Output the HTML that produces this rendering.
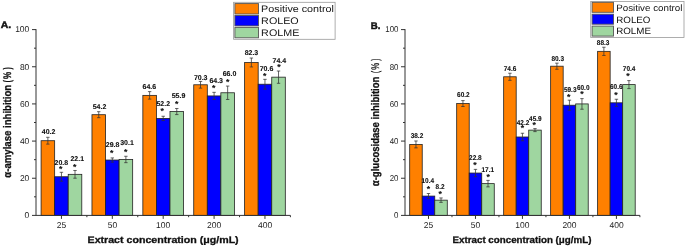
<!DOCTYPE html>
<html><head><meta charset="utf-8"><style>
html,body{margin:0;padding:0;background:#fff;width:685px;height:246px;overflow:hidden}
svg{display:block;will-change:transform}
text{font-family:"Liberation Sans",sans-serif;fill:#111;text-rendering:geometricPrecision}
.vl{stroke:#111;stroke-width:0.12px}
.tt{stroke:#111;stroke-width:0.3px}
.pl{stroke:#111;stroke-width:0.45px}
.st{stroke:#111;stroke-width:0.1px}
</style></head><body>
<svg width="685" height="246" viewBox="0 0 685 246">
<rect x="41.09" y="140.71" width="13.57" height="74.69" fill="#ff8000" stroke="#222" stroke-width="0.8"/>
<path d="M46.17 137.31H49.57M47.87 137.31V144.11M46.17 144.11H49.57" stroke="#333" stroke-width="0.75" fill="none"/>
<rect x="54.66" y="176.75" width="13.57" height="38.65" fill="#0000ff" stroke="#222" stroke-width="0.8"/>
<path d="M59.74 172.30H63.14M61.44 172.30V181.20M59.74 181.20H63.14" stroke="#333" stroke-width="0.75" fill="none"/>
<rect x="68.22" y="174.34" width="13.57" height="41.06" fill="#9fd6a0" stroke="#222" stroke-width="0.8"/>
<path d="M73.31 170.49H76.71M75.01 170.49V178.19M73.31 178.19H76.71" stroke="#333" stroke-width="0.75" fill="none"/>
<rect x="91.97" y="114.70" width="13.57" height="100.70" fill="#ff8000" stroke="#222" stroke-width="0.8"/>
<path d="M97.05 111.70H100.45M98.75 111.70V117.70M97.05 117.70H100.45" stroke="#333" stroke-width="0.75" fill="none"/>
<rect x="105.54" y="160.03" width="13.57" height="55.37" fill="#0000ff" stroke="#222" stroke-width="0.8"/>
<path d="M110.62 157.93H114.02M112.32 157.93V162.13M110.62 162.13H114.02" stroke="#333" stroke-width="0.75" fill="none"/>
<rect x="119.10" y="159.47" width="13.57" height="55.93" fill="#9fd6a0" stroke="#222" stroke-width="0.8"/>
<path d="M124.19 156.27H127.59M125.89 156.27V162.67M124.19 162.67H127.59" stroke="#333" stroke-width="0.75" fill="none"/>
<rect x="142.85" y="95.37" width="13.57" height="120.03" fill="#ff8000" stroke="#222" stroke-width="0.8"/>
<path d="M147.93 91.62H151.33M149.63 91.62V99.12M147.93 99.12H151.33" stroke="#333" stroke-width="0.75" fill="none"/>
<rect x="156.42" y="118.41" width="13.57" height="96.99" fill="#0000ff" stroke="#222" stroke-width="0.8"/>
<path d="M161.50 116.26H164.90M163.20 116.26V120.56M161.50 120.56H164.90" stroke="#333" stroke-width="0.75" fill="none"/>
<rect x="169.98" y="111.54" width="13.57" height="103.86" fill="#9fd6a0" stroke="#222" stroke-width="0.8"/>
<path d="M175.07 108.49H178.47M176.77 108.49V114.59M175.07 114.59H178.47" stroke="#333" stroke-width="0.75" fill="none"/>
<rect x="193.73" y="84.78" width="13.57" height="130.62" fill="#ff8000" stroke="#222" stroke-width="0.8"/>
<path d="M198.81 81.43H202.21M200.51 81.43V88.13M198.81 88.13H202.21" stroke="#333" stroke-width="0.75" fill="none"/>
<rect x="207.30" y="95.93" width="13.57" height="119.47" fill="#0000ff" stroke="#222" stroke-width="0.8"/>
<path d="M212.38 92.33H215.78M214.08 92.33V99.53M212.38 99.53H215.78" stroke="#333" stroke-width="0.75" fill="none"/>
<rect x="220.86" y="92.77" width="13.57" height="122.63" fill="#9fd6a0" stroke="#222" stroke-width="0.8"/>
<path d="M225.95 86.07H229.35M227.65 86.07V99.47M225.95 99.47H229.35" stroke="#333" stroke-width="0.75" fill="none"/>
<rect x="244.61" y="62.49" width="13.57" height="152.91" fill="#ff8000" stroke="#222" stroke-width="0.8"/>
<path d="M249.69 58.04H253.09M251.39 58.04V66.94M249.69 66.94H253.09" stroke="#333" stroke-width="0.75" fill="none"/>
<rect x="258.18" y="84.23" width="13.57" height="131.17" fill="#0000ff" stroke="#222" stroke-width="0.8"/>
<path d="M263.26 79.33H266.66M264.96 79.33V89.13M263.26 89.13H266.66" stroke="#333" stroke-width="0.75" fill="none"/>
<rect x="271.74" y="77.16" width="13.57" height="138.24" fill="#9fd6a0" stroke="#222" stroke-width="0.8"/>
<path d="M276.83 71.01H280.23M278.53 71.01V83.31M276.83 83.31H280.23" stroke="#333" stroke-width="0.75" fill="none"/>
<text x="41.76" y="134.40" textLength="13.59" lengthAdjust="spacingAndGlyphs" style="font-size:7.0px;font-weight:bold" class="vl">40.2</text>
<text x="54.59" y="165.10" textLength="13.59" lengthAdjust="spacingAndGlyphs" style="font-size:7.0px;font-weight:bold" class="vl">20.8</text>
<text x="70.49" y="161.20" textLength="13.59" lengthAdjust="spacingAndGlyphs" style="font-size:7.0px;font-weight:bold" class="vl">22.1</text>
<text x="60.80" y="171.94" class="st" style="font-size:8.6px;font-weight:bold;text-anchor:middle">*</text>
<text x="74.60" y="169.54" class="st" style="font-size:8.6px;font-weight:bold;text-anchor:middle">*</text>
<text x="92.68" y="109.40" textLength="13.59" lengthAdjust="spacingAndGlyphs" style="font-size:7.0px;font-weight:bold" class="vl">54.2</text>
<text x="105.79" y="147.00" textLength="13.59" lengthAdjust="spacingAndGlyphs" style="font-size:7.0px;font-weight:bold" class="vl">29.8</text>
<text x="120.23" y="144.60" textLength="13.59" lengthAdjust="spacingAndGlyphs" style="font-size:7.0px;font-weight:bold" class="vl">30.1</text>
<text x="111.80" y="155.64" class="st" style="font-size:8.6px;font-weight:bold;text-anchor:middle">*</text>
<text x="125.60" y="155.04" class="st" style="font-size:8.6px;font-weight:bold;text-anchor:middle">*</text>
<text x="142.59" y="89.40" textLength="13.59" lengthAdjust="spacingAndGlyphs" style="font-size:7.0px;font-weight:bold" class="vl">64.6</text>
<text x="156.43" y="106.00" textLength="13.59" lengthAdjust="spacingAndGlyphs" style="font-size:7.0px;font-weight:bold" class="vl">52.2</text>
<text x="171.73" y="98.40" textLength="13.59" lengthAdjust="spacingAndGlyphs" style="font-size:7.0px;font-weight:bold" class="vl">55.9</text>
<text x="162.20" y="113.94" class="st" style="font-size:8.6px;font-weight:bold;text-anchor:middle">*</text>
<text x="176.60" y="106.64" class="st" style="font-size:8.6px;font-weight:bold;text-anchor:middle">*</text>
<text x="193.89" y="79.50" textLength="13.59" lengthAdjust="spacingAndGlyphs" style="font-size:7.0px;font-weight:bold" class="vl">70.3</text>
<text x="209.39" y="82.50" textLength="13.59" lengthAdjust="spacingAndGlyphs" style="font-size:7.0px;font-weight:bold" class="vl">64.3</text>
<text x="222.73" y="76.40" textLength="13.59" lengthAdjust="spacingAndGlyphs" style="font-size:7.0px;font-weight:bold" class="vl">66.0</text>
<text x="213.60" y="90.64" class="st" style="font-size:8.6px;font-weight:bold;text-anchor:middle">*</text>
<text x="227.60" y="84.54" class="st" style="font-size:8.6px;font-weight:bold;text-anchor:middle">*</text>
<text x="244.63" y="55.40" textLength="13.59" lengthAdjust="spacingAndGlyphs" style="font-size:7.0px;font-weight:bold" class="vl">82.3</text>
<text x="259.69" y="71.20" textLength="13.59" lengthAdjust="spacingAndGlyphs" style="font-size:7.0px;font-weight:bold" class="vl">70.6</text>
<text x="272.59" y="62.70" textLength="13.59" lengthAdjust="spacingAndGlyphs" style="font-size:7.0px;font-weight:bold" class="vl">74.4</text>
<text x="264.70" y="78.54" class="st" style="font-size:8.6px;font-weight:bold;text-anchor:middle">*</text>
<text x="279.00" y="70.44" class="st" style="font-size:8.6px;font-weight:bold;text-anchor:middle">*</text>
<path d="M36.0 29.1V215.4H290.4" stroke="#333" stroke-width="1" fill="none"/>
<rect x="409.70" y="144.42" width="12.53" height="70.98" fill="#ff8000" stroke="#222" stroke-width="0.8"/>
<path d="M414.26 140.97H417.66M415.96 140.97V147.87M414.26 147.87H417.66" stroke="#333" stroke-width="0.75" fill="none"/>
<rect x="422.23" y="196.08" width="12.53" height="19.32" fill="#0000ff" stroke="#222" stroke-width="0.8"/>
<path d="M426.79 193.53H430.19M428.49 193.53V198.63M426.79 198.63H430.19" stroke="#333" stroke-width="0.75" fill="none"/>
<rect x="434.75" y="200.16" width="12.53" height="15.24" fill="#9fd6a0" stroke="#222" stroke-width="0.8"/>
<path d="M439.32 197.96H442.72M441.02 197.96V202.36M439.32 202.36H442.72" stroke="#333" stroke-width="0.75" fill="none"/>
<rect x="456.68" y="103.55" width="12.53" height="111.85" fill="#ff8000" stroke="#222" stroke-width="0.8"/>
<path d="M461.24 100.60H464.64M462.94 100.60V106.50M461.24 106.50H464.64" stroke="#333" stroke-width="0.75" fill="none"/>
<rect x="469.21" y="173.04" width="12.53" height="42.36" fill="#0000ff" stroke="#222" stroke-width="0.8"/>
<path d="M473.77 169.39H477.17M475.47 169.39V176.69M473.77 176.69H477.17" stroke="#333" stroke-width="0.75" fill="none"/>
<rect x="481.73" y="183.63" width="12.53" height="31.77" fill="#9fd6a0" stroke="#222" stroke-width="0.8"/>
<path d="M486.30 180.38H489.70M488.00 180.38V186.88M486.30 186.88H489.70" stroke="#333" stroke-width="0.75" fill="none"/>
<rect x="503.66" y="76.79" width="12.53" height="138.61" fill="#ff8000" stroke="#222" stroke-width="0.8"/>
<path d="M508.22 73.24H511.62M509.92 73.24V80.34M508.22 80.34H511.62" stroke="#333" stroke-width="0.75" fill="none"/>
<rect x="516.19" y="136.99" width="12.53" height="78.41" fill="#0000ff" stroke="#222" stroke-width="0.8"/>
<path d="M520.75 133.24H524.15M522.45 133.24V140.74M520.75 140.74H524.15" stroke="#333" stroke-width="0.75" fill="none"/>
<rect x="528.71" y="130.12" width="12.53" height="85.28" fill="#9fd6a0" stroke="#222" stroke-width="0.8"/>
<path d="M533.28 128.62H536.68M534.98 128.62V131.62M533.28 131.62H536.68" stroke="#333" stroke-width="0.75" fill="none"/>
<rect x="550.64" y="66.20" width="12.53" height="149.20" fill="#ff8000" stroke="#222" stroke-width="0.8"/>
<path d="M555.20 63.15H558.60M556.90 63.15V69.25M555.20 69.25H558.60" stroke="#333" stroke-width="0.75" fill="none"/>
<rect x="563.17" y="105.22" width="12.53" height="110.18" fill="#0000ff" stroke="#222" stroke-width="0.8"/>
<path d="M567.73 100.17H571.13M569.43 100.17V110.27M567.73 110.27H571.13" stroke="#333" stroke-width="0.75" fill="none"/>
<rect x="575.69" y="103.92" width="12.53" height="111.48" fill="#9fd6a0" stroke="#222" stroke-width="0.8"/>
<path d="M580.26 98.62H583.66M581.96 98.62V109.22M580.26 109.22H583.66" stroke="#333" stroke-width="0.75" fill="none"/>
<rect x="597.62" y="51.34" width="12.53" height="164.06" fill="#ff8000" stroke="#222" stroke-width="0.8"/>
<path d="M602.18 47.24H605.58M603.88 47.24V55.44M602.18 55.44H605.58" stroke="#333" stroke-width="0.75" fill="none"/>
<rect x="610.15" y="102.81" width="12.53" height="112.59" fill="#0000ff" stroke="#222" stroke-width="0.8"/>
<path d="M614.71 99.26H618.11M616.41 99.26V106.36M614.71 106.36H618.11" stroke="#333" stroke-width="0.75" fill="none"/>
<rect x="622.67" y="84.60" width="12.53" height="130.80" fill="#9fd6a0" stroke="#222" stroke-width="0.8"/>
<path d="M627.24 80.60H630.64M628.94 80.60V88.60M627.24 88.60H630.64" stroke="#333" stroke-width="0.75" fill="none"/>
<text x="410.67" y="137.60" textLength="12.56" lengthAdjust="spacingAndGlyphs" style="font-size:7.0px;font-weight:bold" class="vl">38.2</text>
<text x="421.54" y="183.20" textLength="12.56" lengthAdjust="spacingAndGlyphs" style="font-size:7.0px;font-weight:bold" class="vl">10.4</text>
<text x="435.55" y="188.70" textLength="8.97" lengthAdjust="spacingAndGlyphs" style="font-size:7.0px;font-weight:bold" class="vl">8.2</text>
<text x="428.40" y="191.64" class="st" style="font-size:8.6px;font-weight:bold;text-anchor:middle">*</text>
<text x="440.30" y="196.54" class="st" style="font-size:8.6px;font-weight:bold;text-anchor:middle">*</text>
<text x="457.11" y="97.30" textLength="12.56" lengthAdjust="spacingAndGlyphs" style="font-size:7.0px;font-weight:bold" class="vl">60.2</text>
<text x="469.11" y="160.10" textLength="12.56" lengthAdjust="spacingAndGlyphs" style="font-size:7.0px;font-weight:bold" class="vl">22.8</text>
<text x="481.51" y="172.10" textLength="12.56" lengthAdjust="spacingAndGlyphs" style="font-size:7.0px;font-weight:bold" class="vl">17.1</text>
<text x="475.00" y="168.24" class="st" style="font-size:8.6px;font-weight:bold;text-anchor:middle">*</text>
<text x="488.20" y="179.64" class="st" style="font-size:8.6px;font-weight:bold;text-anchor:middle">*</text>
<text x="503.71" y="70.60" textLength="12.56" lengthAdjust="spacingAndGlyphs" style="font-size:7.0px;font-weight:bold" class="vl">74.6</text>
<text x="516.77" y="124.50" textLength="12.56" lengthAdjust="spacingAndGlyphs" style="font-size:7.0px;font-weight:bold" class="vl">42.2</text>
<text x="529.07" y="120.50" textLength="12.56" lengthAdjust="spacingAndGlyphs" style="font-size:7.0px;font-weight:bold" class="vl">45.9</text>
<text x="522.40" y="131.44" class="st" style="font-size:8.6px;font-weight:bold;text-anchor:middle">*</text>
<text x="534.30" y="128.44" class="st" style="font-size:8.6px;font-weight:bold;text-anchor:middle">*</text>
<text x="551.44" y="61.20" textLength="12.56" lengthAdjust="spacingAndGlyphs" style="font-size:7.0px;font-weight:bold" class="vl">80.3</text>
<text x="563.94" y="91.90" textLength="12.56" lengthAdjust="spacingAndGlyphs" style="font-size:7.0px;font-weight:bold" class="vl">59.3</text>
<text x="576.94" y="89.50" textLength="12.56" lengthAdjust="spacingAndGlyphs" style="font-size:7.0px;font-weight:bold" class="vl">60.0</text>
<text x="568.80" y="99.74" class="st" style="font-size:8.6px;font-weight:bold;text-anchor:middle">*</text>
<text x="582.00" y="97.04" class="st" style="font-size:8.6px;font-weight:bold;text-anchor:middle">*</text>
<text x="596.84" y="44.70" textLength="12.56" lengthAdjust="spacingAndGlyphs" style="font-size:7.0px;font-weight:bold" class="vl">88.3</text>
<text x="610.01" y="88.95" textLength="12.56" lengthAdjust="spacingAndGlyphs" style="font-size:7.0px;font-weight:bold" class="vl">60.6</text>
<text x="622.81" y="71.40" textLength="12.56" lengthAdjust="spacingAndGlyphs" style="font-size:7.0px;font-weight:bold" class="vl">70.4</text>
<text x="615.90" y="97.74" class="st" style="font-size:8.6px;font-weight:bold;text-anchor:middle">*</text>
<text x="628.00" y="79.24" class="st" style="font-size:8.6px;font-weight:bold;text-anchor:middle">*</text>
<path d="M405.0 29.1V215.4H639.9" stroke="#333" stroke-width="1" fill="none"/>
<path d="M32.0 215.40H36.0" stroke="#333" stroke-width="1"/>
<text x="24.58" y="218.15" textLength="4.73" lengthAdjust="spacingAndGlyphs" style="font-size:8.5px;font-weight:normal;fill:#222" >0</text>
<path d="M34.0 196.82H36.0" stroke="#333" stroke-width="1"/>
<path d="M32.0 178.24H36.0" stroke="#333" stroke-width="1"/>
<text x="19.90" y="180.99" textLength="9.45" lengthAdjust="spacingAndGlyphs" style="font-size:8.5px;font-weight:normal;fill:#222" >20</text>
<path d="M34.0 159.66H36.0" stroke="#333" stroke-width="1"/>
<path d="M32.0 141.08H36.0" stroke="#333" stroke-width="1"/>
<text x="19.90" y="143.83" textLength="9.45" lengthAdjust="spacingAndGlyphs" style="font-size:8.5px;font-weight:normal;fill:#222" >40</text>
<path d="M34.0 122.50H36.0" stroke="#333" stroke-width="1"/>
<path d="M32.0 103.92H36.0" stroke="#333" stroke-width="1"/>
<text x="19.90" y="106.67" textLength="9.45" lengthAdjust="spacingAndGlyphs" style="font-size:8.5px;font-weight:normal;fill:#222" >60</text>
<path d="M34.0 85.34H36.0" stroke="#333" stroke-width="1"/>
<path d="M32.0 66.76H36.0" stroke="#333" stroke-width="1"/>
<text x="19.90" y="69.51" textLength="9.45" lengthAdjust="spacingAndGlyphs" style="font-size:8.5px;font-weight:normal;fill:#222" >80</text>
<path d="M34.0 48.18H36.0" stroke="#333" stroke-width="1"/>
<path d="M32.0 29.60H36.0" stroke="#333" stroke-width="1"/>
<text x="15.15" y="32.35" textLength="14.18" lengthAdjust="spacingAndGlyphs" style="font-size:8.5px;font-weight:normal;fill:#222" >100</text>
<path d="M61.44 215.4V218.9" stroke="#333" stroke-width="1"/>
<text x="56.78" y="227.60" textLength="9.45" lengthAdjust="spacingAndGlyphs" style="font-size:8.5px;font-weight:normal;fill:#222" >25</text>
<path d="M86.88 215.4V217.20000000000002" stroke="#333" stroke-width="1"/>
<path d="M112.32 215.4V218.9" stroke="#333" stroke-width="1"/>
<text x="107.70" y="227.60" textLength="9.45" lengthAdjust="spacingAndGlyphs" style="font-size:8.5px;font-weight:normal;fill:#222" >50</text>
<path d="M137.76 215.4V217.20000000000002" stroke="#333" stroke-width="1"/>
<path d="M163.20 215.4V218.9" stroke="#333" stroke-width="1"/>
<text x="156.03" y="227.60" textLength="14.18" lengthAdjust="spacingAndGlyphs" style="font-size:8.5px;font-weight:normal;fill:#222" >100</text>
<path d="M188.64 215.4V217.20000000000002" stroke="#333" stroke-width="1"/>
<path d="M214.08 215.4V218.9" stroke="#333" stroke-width="1"/>
<text x="207.04" y="227.60" textLength="14.18" lengthAdjust="spacingAndGlyphs" style="font-size:8.5px;font-weight:normal;fill:#222" >200</text>
<path d="M239.52 215.4V217.20000000000002" stroke="#333" stroke-width="1"/>
<path d="M264.96 215.4V218.9" stroke="#333" stroke-width="1"/>
<text x="258.05" y="227.60" textLength="14.18" lengthAdjust="spacingAndGlyphs" style="font-size:8.5px;font-weight:normal;fill:#222" >400</text>
<path d="M290.40 215.4V217.20000000000002" stroke="#333" stroke-width="1"/>
<text x="87.56" y="242.90" textLength="151.12" lengthAdjust="spacingAndGlyphs" style="font-size:9.5px;font-weight:bold" class="tt">Extract concentration (μg/mL)</text>
<path d="M401.0 215.40H405.0" stroke="#333" stroke-width="1"/>
<text x="394.09" y="218.15" textLength="4.40" lengthAdjust="spacingAndGlyphs" style="font-size:8.5px;font-weight:normal;fill:#222" >0</text>
<path d="M403.0 196.82H405.0" stroke="#333" stroke-width="1"/>
<path d="M401.0 178.24H405.0" stroke="#333" stroke-width="1"/>
<text x="389.74" y="180.99" textLength="8.79" lengthAdjust="spacingAndGlyphs" style="font-size:8.5px;font-weight:normal;fill:#222" >20</text>
<path d="M403.0 159.66H405.0" stroke="#333" stroke-width="1"/>
<path d="M401.0 141.08H405.0" stroke="#333" stroke-width="1"/>
<text x="389.74" y="143.83" textLength="8.79" lengthAdjust="spacingAndGlyphs" style="font-size:8.5px;font-weight:normal;fill:#222" >40</text>
<path d="M403.0 122.50H405.0" stroke="#333" stroke-width="1"/>
<path d="M401.0 103.92H405.0" stroke="#333" stroke-width="1"/>
<text x="389.74" y="106.67" textLength="8.79" lengthAdjust="spacingAndGlyphs" style="font-size:8.5px;font-weight:normal;fill:#222" >60</text>
<path d="M403.0 85.34H405.0" stroke="#333" stroke-width="1"/>
<path d="M401.0 66.76H405.0" stroke="#333" stroke-width="1"/>
<text x="389.74" y="69.51" textLength="8.79" lengthAdjust="spacingAndGlyphs" style="font-size:8.5px;font-weight:normal;fill:#222" >80</text>
<path d="M403.0 48.18H405.0" stroke="#333" stroke-width="1"/>
<path d="M401.0 29.60H405.0" stroke="#333" stroke-width="1"/>
<text x="385.31" y="32.35" textLength="13.19" lengthAdjust="spacingAndGlyphs" style="font-size:8.5px;font-weight:normal;fill:#222" >100</text>
<path d="M428.49 215.4V218.9" stroke="#333" stroke-width="1"/>
<text x="423.83" y="227.60" textLength="9.45" lengthAdjust="spacingAndGlyphs" style="font-size:8.5px;font-weight:normal;fill:#222" >25</text>
<path d="M451.98 215.4V217.20000000000002" stroke="#333" stroke-width="1"/>
<path d="M475.47 215.4V218.9" stroke="#333" stroke-width="1"/>
<text x="470.85" y="227.60" textLength="9.45" lengthAdjust="spacingAndGlyphs" style="font-size:8.5px;font-weight:normal;fill:#222" >50</text>
<path d="M498.96 215.4V217.20000000000002" stroke="#333" stroke-width="1"/>
<path d="M522.45 215.4V218.9" stroke="#333" stroke-width="1"/>
<text x="515.28" y="227.60" textLength="14.18" lengthAdjust="spacingAndGlyphs" style="font-size:8.5px;font-weight:normal;fill:#222" >100</text>
<path d="M545.94 215.4V217.20000000000002" stroke="#333" stroke-width="1"/>
<path d="M569.43 215.4V218.9" stroke="#333" stroke-width="1"/>
<text x="562.39" y="227.60" textLength="14.18" lengthAdjust="spacingAndGlyphs" style="font-size:8.5px;font-weight:normal;fill:#222" >200</text>
<path d="M592.92 215.4V217.20000000000002" stroke="#333" stroke-width="1"/>
<path d="M616.41 215.4V218.9" stroke="#333" stroke-width="1"/>
<text x="609.50" y="227.60" textLength="14.18" lengthAdjust="spacingAndGlyphs" style="font-size:8.5px;font-weight:normal;fill:#222" >400</text>
<path d="M639.90 215.4V217.20000000000002" stroke="#333" stroke-width="1"/>
<text x="452.52" y="242.90" textLength="138.92" lengthAdjust="spacingAndGlyphs" style="font-size:9.5px;font-weight:bold" class="tt">Extract concentration (μg/mL)</text>
<text x="0.69" y="28.40" textLength="10.44" lengthAdjust="spacingAndGlyphs" style="font-size:9.6px;font-weight:bold" class="pl">A.</text>
<text x="370.82" y="28.60" textLength="9.65" lengthAdjust="spacingAndGlyphs" style="font-size:9.6px;font-weight:bold" class="pl">B.</text>
<text transform="translate(10.50,177.68) rotate(-90)" x="0" y="0" textLength="92.88" lengthAdjust="spacingAndGlyphs" style="font-size:11.0px;font-weight:bold" class="tt">α-amylase inhibition</text>
<text transform="translate(10.60,82.34) rotate(-90)" x="0" y="0" textLength="2.26" lengthAdjust="spacingAndGlyphs" style="font-size:11.0px;font-weight:bold" class="tt">(</text>
<text transform="translate(10.60,78.94) rotate(-90)" x="0" y="0" textLength="7.18" lengthAdjust="spacingAndGlyphs" style="font-size:11.0px;font-weight:bold" class="tt">%</text>
<text transform="translate(10.60,69.50) rotate(-90)" x="0" y="0" textLength="2.38" lengthAdjust="spacingAndGlyphs" style="font-size:11.0px;font-weight:bold" class="tt">)</text>
<text transform="translate(379.40,186.18) rotate(-90)" x="0" y="0" textLength="109.59" lengthAdjust="spacingAndGlyphs" style="font-size:11.0px;font-weight:bold" class="tt">α-glucosidase inhibition</text>
<text transform="translate(379.40,72.89) rotate(-90)" x="0" y="0" textLength="2.18" lengthAdjust="spacingAndGlyphs" style="font-size:11.0px;font-weight:normal" class="tt">(</text>
<text transform="translate(379.40,69.81) rotate(-90)" x="0" y="0" textLength="6.92" lengthAdjust="spacingAndGlyphs" style="font-size:11.0px;font-weight:normal" class="tt">%</text>
<text transform="translate(379.40,60.77) rotate(-90)" x="0" y="0" textLength="2.18" lengthAdjust="spacingAndGlyphs" style="font-size:11.0px;font-weight:normal" class="tt">)</text>
<rect x="233.6" y="2.3" width="101.5" height="37" fill="#fff" stroke="#999" stroke-width="0.8"/>
<rect x="234.9" y="3.60" width="23.6" height="10.4" fill="#ff8000" stroke="#555" stroke-width="0.9"/>
<text x="261.14" y="12.20" textLength="72.82" lengthAdjust="spacingAndGlyphs" style="font-size:9.5px;font-weight:normal;fill:#111" >Positive control</text>
<rect x="234.9" y="15.50" width="23.6" height="10.4" fill="#0000ff" stroke="#555" stroke-width="0.9"/>
<text x="261.14" y="24.10" textLength="37.60" lengthAdjust="spacingAndGlyphs" style="font-size:9.5px;font-weight:normal;fill:#111" >ROLEO</text>
<rect x="234.9" y="27.40" width="23.6" height="10.4" fill="#9fd6a0" stroke="#555" stroke-width="0.9"/>
<text x="261.14" y="35.60" textLength="38.19" lengthAdjust="spacingAndGlyphs" style="font-size:9.5px;font-weight:normal;fill:#111" >ROLME</text>
<rect x="590.7" y="1.5" width="93.3" height="36" fill="#fff" stroke="#999" stroke-width="0.8"/>
<rect x="592.1" y="2.30" width="21.4" height="10.0" fill="#ff8000" stroke="#555" stroke-width="0.9"/>
<text x="616.22" y="10.80" textLength="66.27" lengthAdjust="spacingAndGlyphs" style="font-size:9.2px;font-weight:normal;fill:#111" >Positive control</text>
<rect x="592.1" y="14.20" width="21.4" height="10.0" fill="#0000ff" stroke="#555" stroke-width="0.9"/>
<text x="616.22" y="22.60" textLength="34.22" lengthAdjust="spacingAndGlyphs" style="font-size:9.2px;font-weight:normal;fill:#111" >ROLEO</text>
<rect x="592.1" y="26.10" width="21.4" height="10.0" fill="#9fd6a0" stroke="#555" stroke-width="0.9"/>
<text x="616.22" y="34.30" textLength="34.76" lengthAdjust="spacingAndGlyphs" style="font-size:9.2px;font-weight:normal;fill:#111" >ROLME</text>
</svg>
</body></html>
